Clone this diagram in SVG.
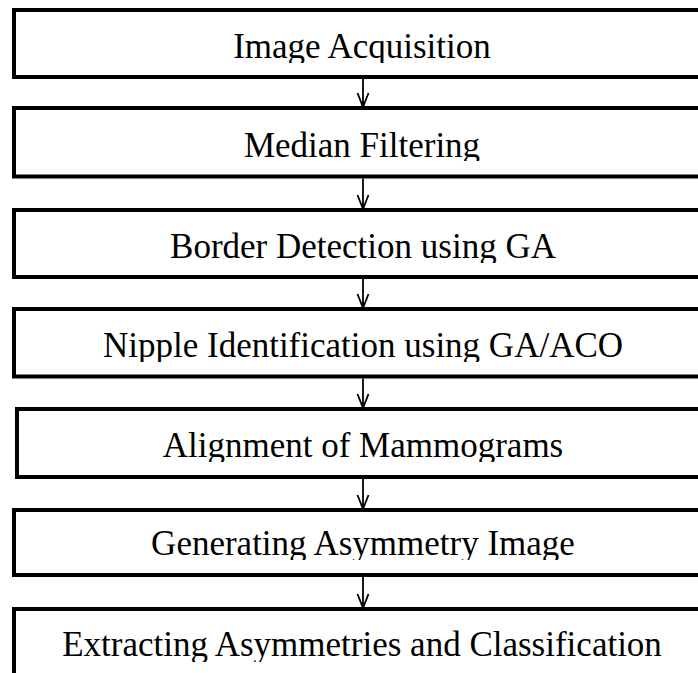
<svg xmlns="http://www.w3.org/2000/svg" width="698" height="673" viewBox="0 0 698 673">
<style>
.box{fill:#fff;stroke:#000;stroke-width:4}
.lbl{font-family:"Liberation Serif","Times New Roman",serif;font-size:35px;fill:#000;text-anchor:middle}
.arr{stroke:#000;stroke-width:1.8;fill:none}
</style>
<defs>
<clipPath id="c1"><rect x="0" y="12" width="698" height="51"/></clipPath>
<clipPath id="c2"><rect x="0" y="110" width="698" height="51"/></clipPath>
<clipPath id="c3"><rect x="0" y="212" width="698" height="51"/></clipPath>
<clipPath id="c4"><rect x="0" y="311" width="698" height="51"/></clipPath>
<clipPath id="c5"><rect x="0" y="411" width="698" height="51"/></clipPath>
<clipPath id="c6"><rect x="0" y="512" width="698" height="48"/></clipPath>
<clipPath id="c7"><rect x="0" y="611" width="698" height="51"/></clipPath>
</defs>
<rect width="698" height="673" fill="#fff"/>
<g id="connectors">
<path class="arr" d="M363 79V107M357.5 93L363 107L368.5 93"/>
<path class="arr" d="M363 178.5V209M357.5 195L363 209L368.5 195"/>
<path class="arr" d="M363 279V308M357.5 294L363 308L368.5 294"/>
<path class="arr" d="M363 378.5V408M357.5 394L363 408L368.5 394"/>
<path class="arr" d="M363 479V509M357.5 495L363 509L368.5 495"/>
<path class="arr" d="M363 577V608M357.5 594L363 608L368.5 594"/>
</g>
<g id="n1"><rect class="box" x="14" y="10" width="700" height="67"/><text class="lbl" x="362" y="58" clip-path="url(#c1)">Image Acquisition</text></g>
<g id="n2"><rect class="box" x="14" y="108" width="700" height="68.5"/><text class="lbl" x="362" y="157" clip-path="url(#c2)">Median Filtering</text></g>
<g id="n3"><rect class="box" x="14" y="210" width="700" height="67"/><text class="lbl" x="363" y="258" clip-path="url(#c3)">Border Detection using GA</text></g>
<g id="n4"><rect class="box" x="14" y="309" width="700" height="67.5"/><text class="lbl" x="363" y="357" clip-path="url(#c4)">Nipple Identification using GA/ACO</text></g>
<g id="n5"><rect class="box" x="17" y="409" width="700" height="68"/><text class="lbl" x="363" y="457" clip-path="url(#c5)">Alignment of Mammograms</text></g>
<g id="n6"><rect class="box" x="14" y="510" width="700" height="65"/><text class="lbl" x="363" y="555" clip-path="url(#c6)">Generating Asymmetry Image</text></g>
<g id="n7"><rect class="box" x="14" y="609" width="700" height="100"/><text class="lbl" x="362" y="656" clip-path="url(#c7)">Extracting Asymmetries and Classification</text></g>
</svg>
